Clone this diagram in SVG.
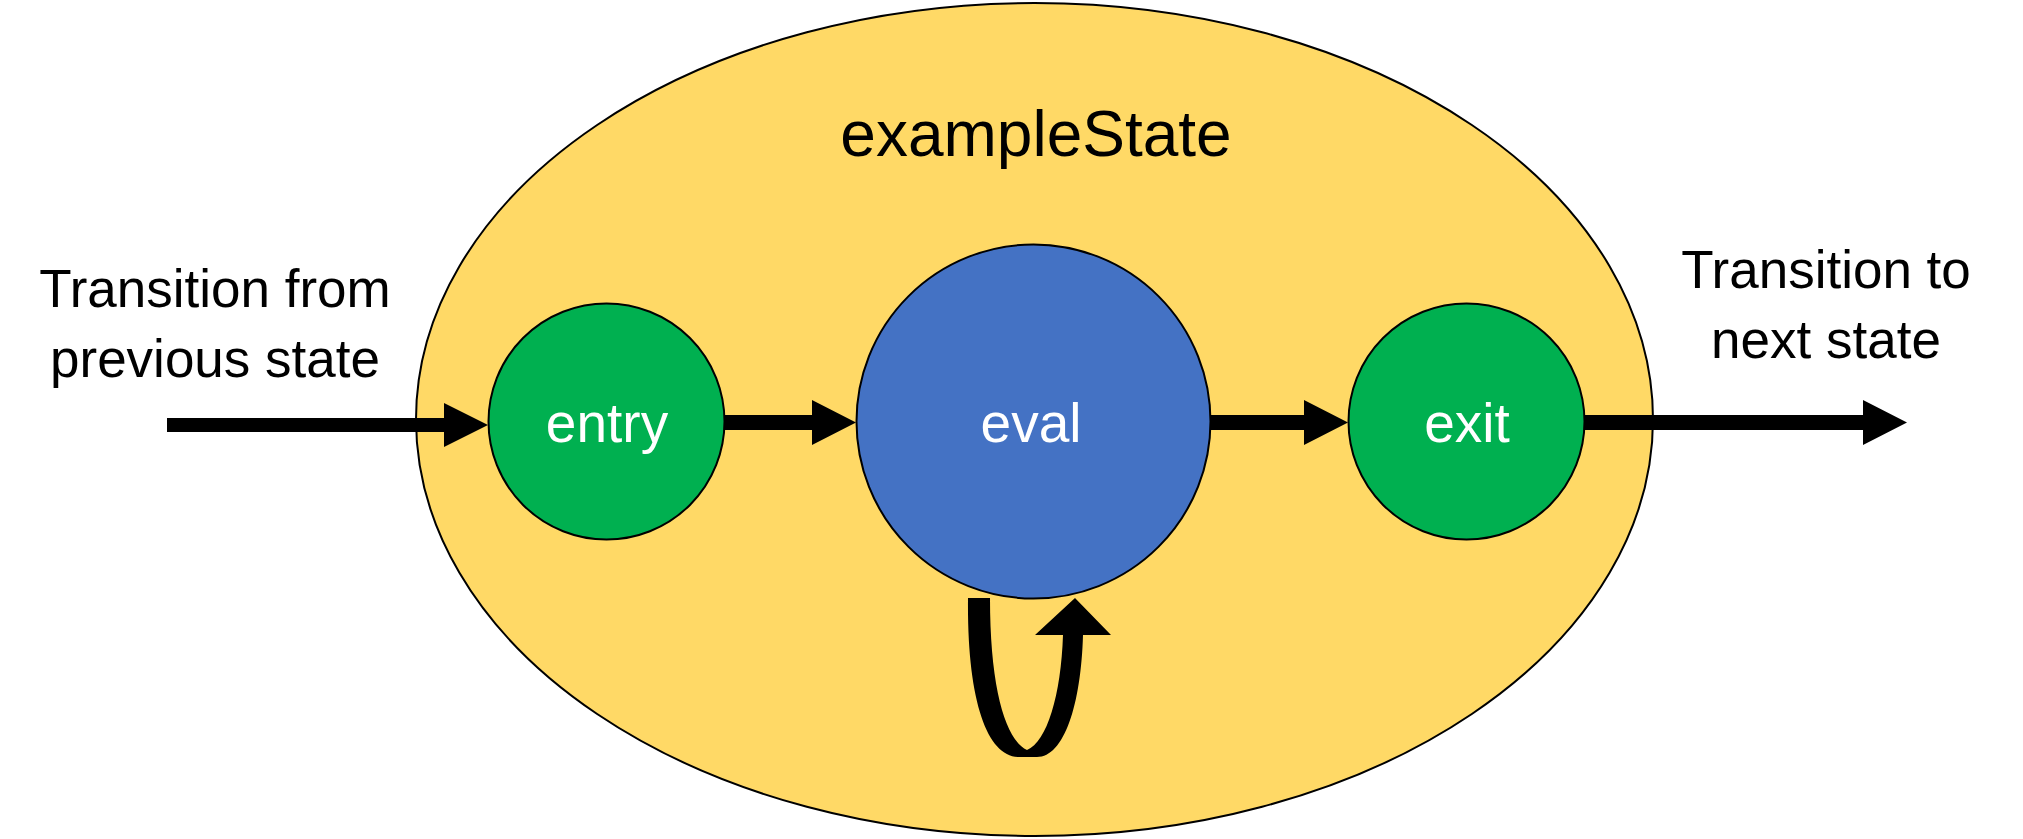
<svg xmlns="http://www.w3.org/2000/svg" width="2023" height="839" viewBox="0 0 2023 839">
<style>
.lbl{font-family:"Liberation Sans",Arial,sans-serif;font-size:53px;fill:#000;text-anchor:middle}
.in{font-family:"Liberation Sans",Arial,sans-serif;font-size:55px;fill:#fff;text-anchor:middle}
.node{stroke:#000;stroke-width:2}
.arr{fill:#000}
</style>
<rect width="2023" height="839" fill="#fff"/>
<g id="exampleState">
<ellipse cx="1034.5" cy="419.5" rx="618.5" ry="416.5" fill="#FFD966" stroke="#000" stroke-width="2"/>
<text x="1036" y="156" class="lbl" style="font-size:64px">exampleState</text>
</g>
<g id="labels">
<text x="215" y="307" class="lbl">Transition from</text>
<text x="215" y="377" class="lbl">previous state</text>
<text x="1826" y="288" class="lbl">Transition to</text>
<text x="1826" y="358" class="lbl">next state</text>
</g>
<g id="connectors">
<path class="arr" d="M167,418 H444 V403 L488,425 L444,447 V432 H167 Z"/>
<path class="arr" d="M725,415 H812 V400 L856,422.5 L812,445 V430 H725 Z"/>
<path class="arr" d="M1211,415 H1304 V400 L1348,422.5 L1304,445 V430 H1211 Z"/>
<path class="arr" d="M1585,415 H1863 V400 L1907,422.5 L1863,445 V430 H1585 Z"/>
<path class="arr" d="M968,598 C967,700 987,757 1019,757 L1037,757 C1064,757 1081,705 1083,635 L1111,635 L1075,598 L1035,635 L1063,635 C1061,695 1047,742 1027,750 C1006,740 990,690 990,598 Z"/>
</g>
<g id="entry">
<circle cx="606.5" cy="421.5" r="118" fill="#00B050" class="node"/>
<text x="607" y="442" class="in">entry</text>
</g>
<g id="eval">
<circle cx="1033.5" cy="421.5" r="177" fill="#4472C4" class="node"/>
<text x="1031" y="442" class="in">eval</text>
</g>
<g id="exit">
<circle cx="1466.5" cy="421.5" r="118" fill="#00B050" class="node"/>
<text x="1467" y="442" class="in">exit</text>
</g>
</svg>
